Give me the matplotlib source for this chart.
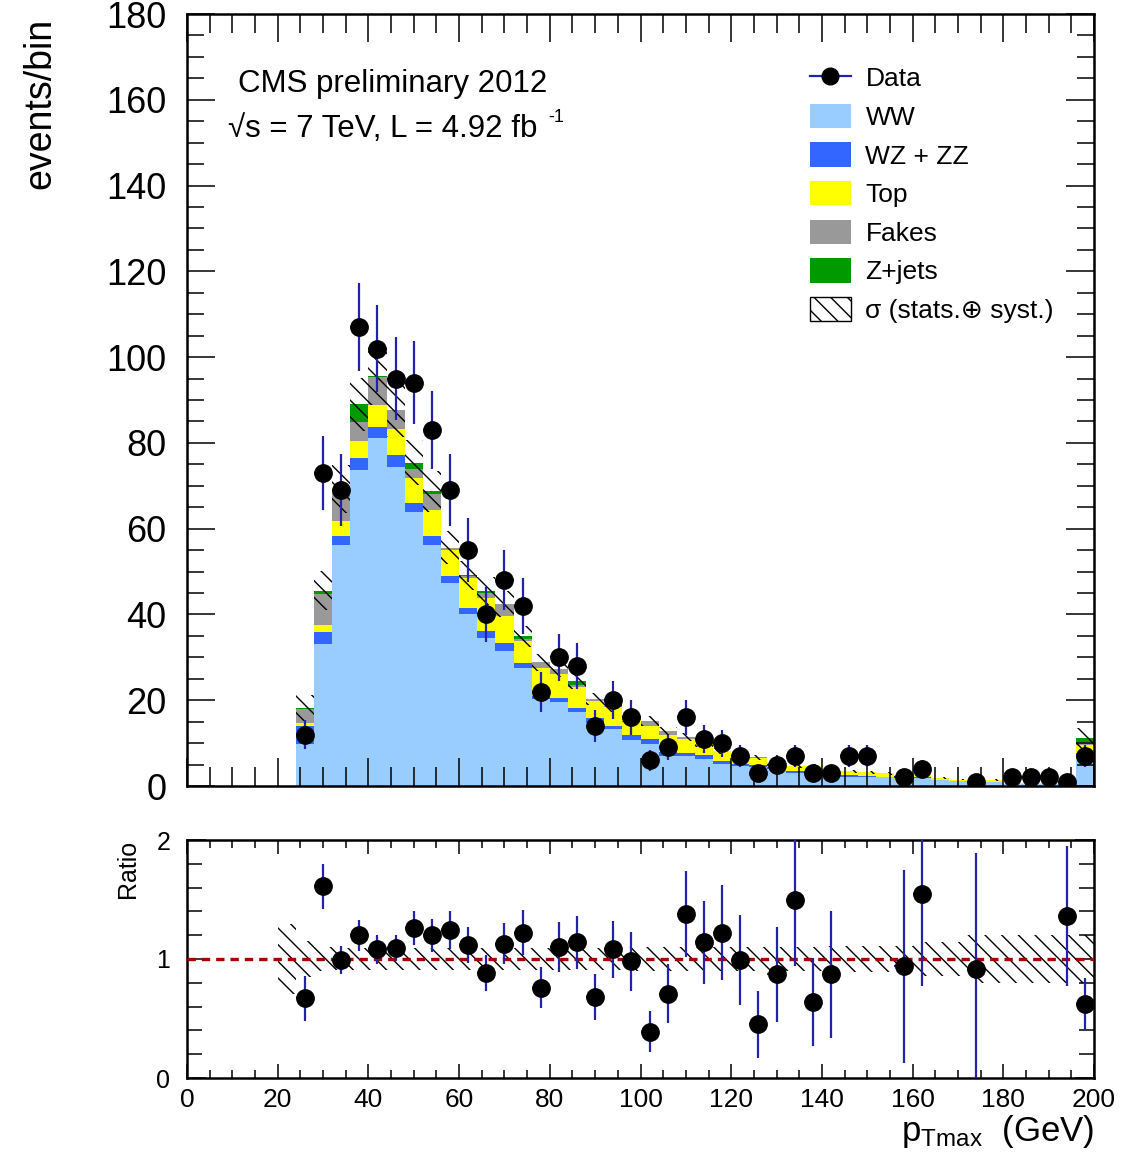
import numpy as np
import matplotlib
matplotlib.use("Agg")
import matplotlib.pyplot as plt
from matplotlib.patches import Patch
from matplotlib.lines import Line2D

plt.rcParams['font.family'] = ['Liberation Sans', 'DejaVu Sans']
plt.rcParams['mathtext.fontset'] = 'custom'
plt.rcParams['mathtext.rm'] = 'Liberation Sans'
plt.rcParams['mathtext.it'] = 'Liberation Sans:italic'
plt.rcParams['hatch.linewidth'] = 1.0

# ---------------- data ----------------
bin_edges = np.arange(24, 201, 4)          # 44 bins, 24..200 GeV
bin_width = 4

ww = [9.7, 33.1, 56.3, 73.6, 81.2, 74.4, 64.0, 56.2, 47.3, 40.0, 34.5, 31.5,
      27.6, 20.3, 19.5, 17.2, 14.8, 13.2, 10.8, 9.7, 6.9, 6.9, 6.3, 5.2,
      4.7, 4.4, 3.9, 3.0, 3.0, 2.4, 2.2, 2.0, 2.0, 1.6, 1.9, 1.3,
      1.1, 0.8, 0.9, 0.5, 0.5, 0.5, 0.5, 7.2]
wz_zz = [4.3, 2.9, 2.0, 2.8, 2.5, 2.8, 2.1, 2.1, 1.6, 1.6, 1.6, 1.8,
         1.0, 0.8, 1.0, 0.9, 1.0, 0.8, 1.1, 1.2, 1.0, 0.7, 0.9, 0.7,
         0.5, 0.6, 0.5, 0.5, 0.4, 0.2, 0.3, 0.3, 0.1, 0.1, 0.2, 0.1,
         0.1, 0.05, 0.1, 0.05, 0.05, 0.05, 0.05, 0.5]
top = [0.8, 1.6, 3.5, 4.0, 5.1, 6.1, 5.6, 6.1, 6.1, 6.9, 7.8, 6.3,
       5.3, 6.5, 5.6, 5.0, 4.1, 4.5, 3.4, 3.1, 4.0, 3.3, 2.6, 2.2,
       1.7, 1.5, 1.2, 1.2, 1.2, 0.8, 0.9, 0.9, 0.9, 0.4, 0.5, 0.5,
       0.3, 0.25, 0.4, 0.25, 0.2, 0.2, 0.2, 1.8]
fakes = [3.2, 7.1, 6.9, 4.5, 6.5, 4.3, 2.3, 3.6, 0.6, 0.4, 1.0, 2.8,
         0.3, 1.2, 1.2, 0.4, 0.3, 0.2, 0.8, 1.2, 0.9, 0.6, 0.0, 0.1,
         0.2, 0.2, 0.1, 0.0, 0.0, 0.0, 0.0, 0.0, 0.0, 0.0, 0.0, 0.0,
         0.0, 0.0, 0.0, 0.0, 0.0, 0.0, 0.0, 0.8]
zjets = [0.2, 0.8, 0.5, 4.1, 0.2, 0.0, 1.4, 0.7, 0.0, 0.2, 0.6, 0.0,
         0.7, 0.0, 0.0, 0.9, 0.0, 0.0, 0.0, 0.0, 0.0, 0.0, 0.0, 0.0,
         0.0, 0.0, 0.0, 0.0, 0.0, 0.0, 0.0, 0.0, 0.0, 0.0, 0.0, 0.0,
         0.0, 0.0, 0.0, 0.0, 0.0, 0.0, 0.0, 0.9]
# relative MC uncertainty (main panel)
mc_rel_unc = [0.17, 0.10, 0.08, 0.07, 0.07, 0.07, 0.07, 0.07, 0.07, 0.07, 0.07, 0.07,
              0.07, 0.07, 0.07, 0.07, 0.07, 0.08, 0.08, 0.08, 0.08, 0.08, 0.08, 0.08,
              0.09, 0.09, 0.09, 0.09, 0.10, 0.10, 0.10, 0.10, 0.11, 0.11, 0.12, 0.13,
              0.14, 0.15, 0.16, 0.17, 0.18, 0.19, 0.20, 0.20]

data_counts = [12, 73, 69, 107, 102, 95, 94, 83, 69, 55, 40, 48,
               42, 22, 30, 28, 14, 20, 16, 6, 9, 16, 11, 10,
               7, 3, 5, 7, 3, 3, 7, 7, 0, 2, 4, 0,
               0, 1, 0, 2, 2, 2, 1, 7]

# ratio panel
ratio_x = [26, 30, 34, 38, 42, 46, 50, 54, 58, 62, 66, 70, 74, 78, 82, 86, 90, 94,
           98, 102, 106, 110, 114, 118, 122, 126, 130, 134, 138, 142, 158, 162,
           174, 194, 198]
ratio_val = [0.67, 1.61, 0.99, 1.20, 1.08, 1.09, 1.26, 1.20, 1.24, 1.12, 0.88, 1.13,
             1.22, 0.76, 1.10, 1.14, 0.68, 1.08, 0.98, 0.39, 0.71, 1.38, 1.14, 1.22,
             0.99, 0.45, 0.87, 1.50, 0.64, 0.87, 0.94, 1.55, 0.92, 1.36, 0.62]
ratio_err = [0.19, 0.19, 0.12, 0.13, 0.12, 0.11, 0.14, 0.14, 0.16, 0.15, 0.15, 0.17,
             0.19, 0.17, 0.21, 0.22, 0.19, 0.24, 0.25, 0.175, 0.25, 0.36, 0.35, 0.40,
             0.38, 0.28, 0.40, 0.56, 0.37, 0.53, 0.81, 0.78, 0.97, 0.59, 0.22]
ratio_band_edges = np.arange(20, 201, 4)
ratio_band_hw = [0.29, 0.15, 0.10, 0.09, 0.09, 0.09, 0.09, 0.09, 0.09, 0.09, 0.09,
                 0.09, 0.09, 0.09, 0.09, 0.09, 0.09, 0.09, 0.09, 0.10, 0.10, 0.10,
                 0.10, 0.10, 0.10, 0.10, 0.10, 0.10, 0.10, 0.10, 0.11, 0.11, 0.11,
                 0.11, 0.11, 0.14, 0.14, 0.14, 0.20, 0.20, 0.20, 0.20, 0.20, 0.20, 0.20]

labels = ["WW", "WZ + ZZ", "Top", "Fakes", "Z+jets"]
colors = ["#99ccff", "#3366ff", "#ffff00", "#999999", "#009900"]
err_color = "#2222aa"

# ---------------- figure ----------------
W, H = 1140, 1156
fig = plt.figure(figsize=(W / 100, H / 100), dpi=100)

def fx(px):
    return px / W

def fy(py):
    return 1 - py / H

ax = fig.add_axes([fx(187), fy(786), fx(1094) - fx(187), fy(14) - fy(786)])
axr = fig.add_axes([fx(187), fy(1078), fx(1094) - fx(187), fy(840) - fy(1078)])

# stacked MC
comps = [np.array(c, float) for c in (ww, wz_zz, top, fakes, zjets)]
base = np.zeros(len(bin_edges) - 1)
for vals, col in zip(comps, colors):
    ax.stairs(base + vals, bin_edges, baseline=base, fill=True, color=col, lw=0)
    base = base + vals
total = base
unc = total * np.array(mc_rel_unc)
ax.stairs(total + unc, bin_edges, baseline=total - unc, fill=True,
          facecolor='none', edgecolor='black', hatch='\\\\', lw=0, zorder=3)

# data
centers = bin_edges[:-1] + bin_width / 2
dc = np.array(data_counts, float)
m = dc > 0
ax.errorbar(centers[m], dc[m], yerr=np.sqrt(dc[m]), xerr=bin_width / 2, fmt='o',
            color='black', ecolor=err_color, elinewidth=1.6, capsize=0,
            ms=12.5, zorder=5)

ax.set_xlim(0, 200)
ax.set_ylim(0, 180)
ax.set_xticks(np.arange(0, 201, 20))
ax.set_xticks(np.arange(0, 201, 5), minor=True)
ax.set_yticks(np.arange(0, 181, 20))
ax.set_yticks(np.arange(0, 181, 5), minor=True)
ax.tick_params(axis='both', which='both', direction='in', top=True, right=True,
               width=1.1)
ax.tick_params(axis='x', which='major', length=20, labelbottom=False)
ax.tick_params(axis='x', which='minor', length=14)
ax.tick_params(axis='y', which='major', length=20, labelsize=26, pad=15)
ax.tick_params(axis='y', which='minor', length=12)
for s in ax.spines.values():
    s.set_linewidth(1.8)

# texts
ax.text(fx(393), fy(84), "CMS preliminary 2012", transform=fig.transFigure,
        ha='center', va='center', fontsize=22.5)
ax.text(fx(228), fy(129), "\u221as = 7 TeV, L = 4.92 fb",
        transform=fig.transFigure, ha='left', va='center', fontsize=22.5)
ax.text(fx(548), fy(118), "-1", transform=fig.transFigure, ha='left',
        va='center', fontsize=13)
fig.text(fx(40), fy(18), "events/bin", rotation=90, ha='center', va='top',
         fontsize=27)

# legend
handles = [Line2D([0], [0], color=err_color, lw=1.6, marker='o', ms=12,
                  markerfacecolor='black', markeredgecolor='black')]
for lab, col in zip(labels, colors):
    handles.append(Patch(facecolor=col, edgecolor='none'))
handles.append(Patch(facecolor='white', edgecolor='black', hatch='\\\\', lw=1.0))
leg_labels = ["Data"] + labels + ["σ (stats.⊕ syst.)"]
ax.legend(handles, leg_labels, loc='upper left',
          bbox_to_anchor=((810 - 187) / 907, (786 - 65) / 772),
          frameon=False, fontsize=19, handlelength=1.55, handleheight=1.05,
          labelspacing=0.47, handletextpad=0.55, borderpad=0, borderaxespad=0)

# ratio panel
axr.stairs(1 + np.array(ratio_band_hw), ratio_band_edges,
           baseline=1 - np.array(ratio_band_hw), fill=True, facecolor='none',
           edgecolor='black', hatch='\\\\', lw=0, zorder=2)
axr.axhline(1, color='#aa0000', lw=2.4, ls=(0, (2.5, 1.8)), zorder=3)
axr.errorbar(ratio_x, ratio_val, yerr=ratio_err, xerr=bin_width / 2, fmt='o',
             color='black', ecolor=err_color, elinewidth=1.6, capsize=0,
             ms=12.5, zorder=5)
axr.set_xlim(0, 200)
axr.set_ylim(0, 2)
axr.set_xticks(np.arange(0, 201, 20))
axr.set_xticks(np.arange(0, 201, 5), minor=True)
axr.set_yticks([0, 1, 2])
axr.set_yticks(np.arange(0, 2.01, 0.2), minor=True)
axr.tick_params(axis='both', which='both', direction='in', top=True, right=True,
                width=1.1)
axr.tick_params(axis='x', which='major', length=10, labelsize=19, pad=7)
axr.tick_params(axis='x', which='minor', length=6)
axr.tick_params(axis='y', which='major', length=14, labelsize=18, pad=12)
axr.tick_params(axis='y', which='minor', length=11)
for s in axr.spines.values():
    s.set_linewidth(1.8)
fig.text(fx(128), fy(840), "Ratio", rotation=90, ha='center', va='top',
         fontsize=18)
fig.text(fx(1094), fy(1132), r"$\mathrm{p}_{\mathrm{Tmax}}$  (GeV)", ha='right',
         va='center', fontsize=25)

fig.savefig("out.png", dpi=100)
